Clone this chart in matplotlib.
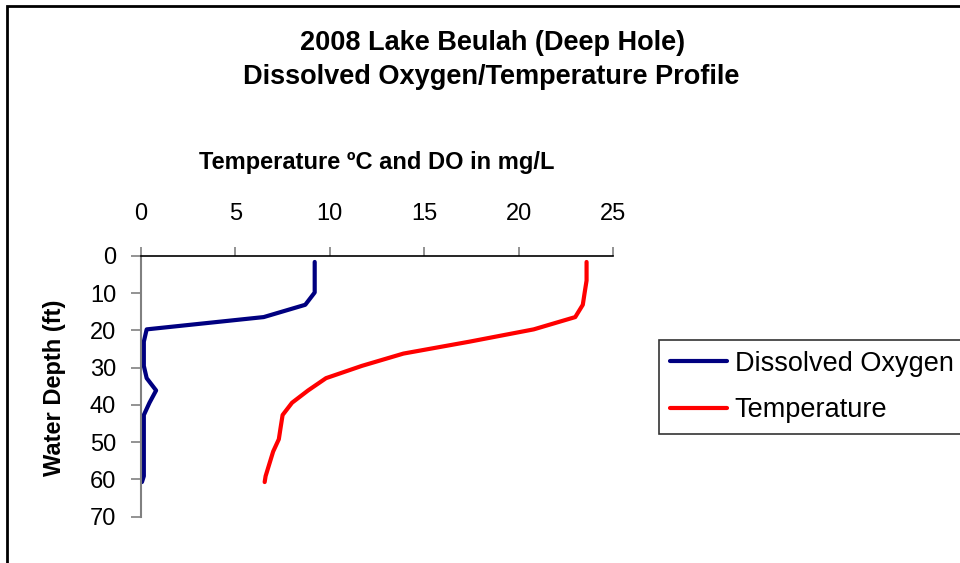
import matplotlib
matplotlib.use("Agg")
import matplotlib.pyplot as plt
from matplotlib.patches import Rectangle

# depth in ft (readings every metre)
depth_ft = [1.6, 3.3, 6.6, 9.8, 13.1, 16.4, 19.7, 23.0, 26.2, 29.5,
            32.8, 36.1, 39.4, 42.7, 45.9, 49.2, 52.5, 55.8, 59.1, 60.7]
dissolved_oxygen = [9.2, 9.2, 9.2, 9.2, 8.7, 6.5, 0.3, 0.15, 0.15, 0.15,
                    0.3, 0.8, 0.45, 0.15, 0.15, 0.15, 0.15, 0.15, 0.15, 0.05]
temperature = [23.6, 23.6, 23.6, 23.5, 23.4, 23.0, 20.8, 17.4, 13.9, 11.7,
               9.8, 8.85, 8.0, 7.5, 7.4, 7.3, 7.0, 6.8, 6.6, 6.55]
x_ticks = [0, 5, 10, 15, 20, 25]
y_ticks = [0, 10, 20, 30, 40, 50, 60, 70]

plt.rcParams['font.family'] = ['Liberation Sans', 'DejaVu Sans']

W, H = 960, 563
fig = plt.figure(figsize=(W / 100, H / 100), dpi=100)
ax = fig.add_axes([141 / W, 1 - 516.7 / H, (613 - 141) / W, (516.7 - 256) / H])

ax.plot(dissolved_oxygen, depth_ft, color="#000080", lw=3, label="Dissolved Oxygen",
        solid_capstyle="round", solid_joinstyle="round")
ax.plot(temperature, depth_ft, color="#FF0000", lw=3, label="Temperature",
        solid_capstyle="round", solid_joinstyle="round")

ax.set_xlim(0, 25)
ax.set_ylim(70, 0)
ax.set_xticks(x_ticks)
ax.set_yticks(y_ticks)
ax.xaxis.tick_top()
ax.tick_params(axis="x", direction="out", length=6.5, width=1.2, color="#808080",
               labelsize=17, pad=16)
ax.tick_params(axis="y", direction="out", length=7, width=1.2, color="#808080",
               labelsize=17, pad=11)
ax.spines["right"].set_visible(False)
ax.spines["bottom"].set_visible(False)
ax.spines["left"].set_color("#808080")
ax.spines["left"].set_linewidth(1.5)
ax.spines["top"].set_color("black")
ax.spines["top"].set_linewidth(1.2)

# titles and axis labels
fig.text(493 / W, 1 - 43 / H, "2008 Lake Beulah (Deep Hole)", ha="center", va="center",
         fontsize=19.5, fontweight="bold")
fig.text(491 / W, 1 - 77 / H, "Dissolved Oxygen/Temperature Profile", ha="center",
         va="center", fontsize=19.5, fontweight="bold")
fig.text(377 / W, 1 - 162 / H, "Temperature ºC and DO in mg/L", ha="center", va="center",
         fontsize=17, fontweight="bold")
fig.text(55 / W, 1 - 388 / H, "Water Depth (ft)", ha="center", va="center",
         rotation=90, fontsize=17, fontweight="bold")

fig.legend(loc="upper left", bbox_to_anchor=(659 / W, 1 - 340 / H), borderaxespad=0,
           fontsize=19.5, frameon=True, fancybox=False, edgecolor="black",
           handlelength=2.1, handletextpad=0.3, labelspacing=0.75, borderpad=0.4)
leg = fig.legends[0]
leg.get_frame().set_linewidth(1.2)

# outer chart border, cut off on the right and bottom like the reference
fig.patches.append(Rectangle((7 / W, -0.1), 1.2, 1.1 - 6 / H, transform=fig.transFigure,
                             fill=False, edgecolor="black", lw=2, clip_on=False))

fig.savefig("out.png", dpi=100)
